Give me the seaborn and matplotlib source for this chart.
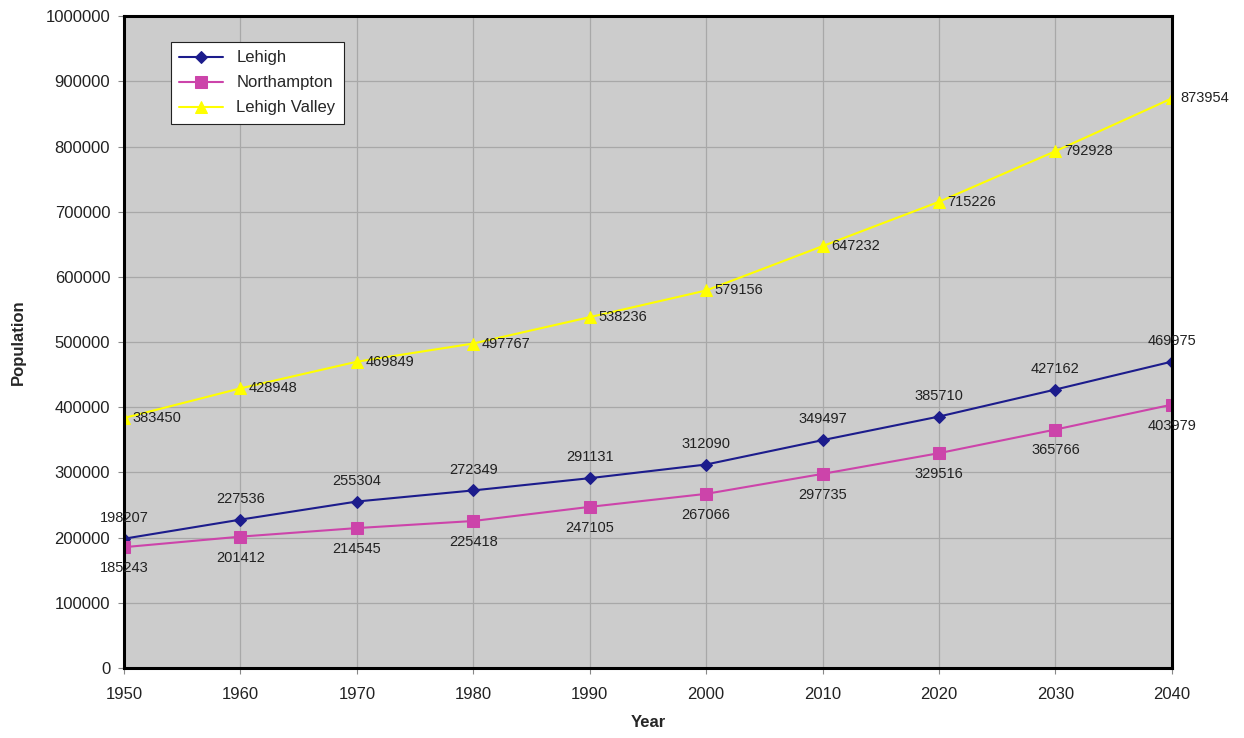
import matplotlib
matplotlib.use('Agg')
import matplotlib.pyplot as plt
import matplotlib.ticker as mticker
import seaborn as sns
import pandas as pd

years = [1950, 1960, 1970, 1980, 1990, 2000, 2010, 2020, 2030, 2040]
lehigh = [198207, 227536, 255304, 272349, 291131, 312090, 349497, 385710, 427162, 469975]
northampton = [185243, 201412, 214545, 225418, 247105, 267066, 297735, 329516, 365766, 403979]
valley = [383450, 428948, 469849, 497767, 538236, 579156, 647232, 715226, 792928, 873954]

sns.set_style('white')
plt.rcParams['font.family'] = ['Liberation Sans', 'DejaVu Sans']

fig, ax = plt.subplots(figsize=(12.44, 7.38), dpi=100)
fig.subplots_adjust(left=0.0997, right=0.942, top=0.978, bottom=0.095)

series = [
    ('Lehigh', lehigh, '#1c1c8c', 'D', 6),
    ('Northampton', northampton, '#cc44aa', 's', 8),
    ('Lehigh Valley', valley, '#ffff00', '^', 8),
]
for name, vals, col, mk, ms in series:
    df = pd.DataFrame({'Year': years, 'Population': vals})
    sns.lineplot(data=df, x='Year', y='Population', ax=ax, color=col, marker=mk,
                 markersize=ms, markeredgecolor=col, linewidth=1.5, label=name)

# etiquetas de datos
for x, v in zip(years, lehigh):
    ax.annotate(str(v), (x, v), xytext=(0, 10), textcoords='offset points',
                ha='center', va='bottom', fontsize=10.5, color='#222222')
for x, v in zip(years, northampton):
    ax.annotate(str(v), (x, v), xytext=(0, -10), textcoords='offset points',
                ha='center', va='top', fontsize=10.5, color='#222222')
for x, v in zip(years, valley):
    ax.annotate(str(v), (x, v), xytext=(6, 0), textcoords='offset points',
                ha='left', va='center', fontsize=10.5, color='#222222')

ax.set_facecolor('#cccccc')
ax.set_xlim(1950, 2040)
ax.set_ylim(0, 1000000)
ax.set_xticks(years)
ax.set_yticks(range(0, 1000001, 100000))
ax.yaxis.set_major_formatter(mticker.FuncFormatter(lambda v, p: f'{int(v)}'))
ax.grid(True, color='#a8a8a8', linewidth=0.9)
ax.set_axisbelow(True)
for s in ax.spines.values():
    s.set_color('black')
    s.set_linewidth(2.2)
ax.tick_params(axis='both', which='both', direction='out', length=4, width=0.8,
               color='#888888', labelsize=12, labelcolor='#222222', left=True, bottom=True)
ax.tick_params(axis='x', pad=10)
ax.tick_params(axis='y', pad=6)
ax.set_xlabel('Year', fontsize=12, fontweight='bold', labelpad=9)
ax.set_ylabel('Population', fontsize=12, fontweight='bold', labelpad=14)

leg = ax.legend(loc='upper left', bbox_to_anchor=(0.037, 0.973), fontsize=12,
                frameon=True, fancybox=False, framealpha=1, edgecolor='#222222',
                borderpad=0.5, handlelength=2.6, labelspacing=0.6)
leg.get_frame().set_linewidth(0.8)

fig.savefig('out.png', dpi=100)
